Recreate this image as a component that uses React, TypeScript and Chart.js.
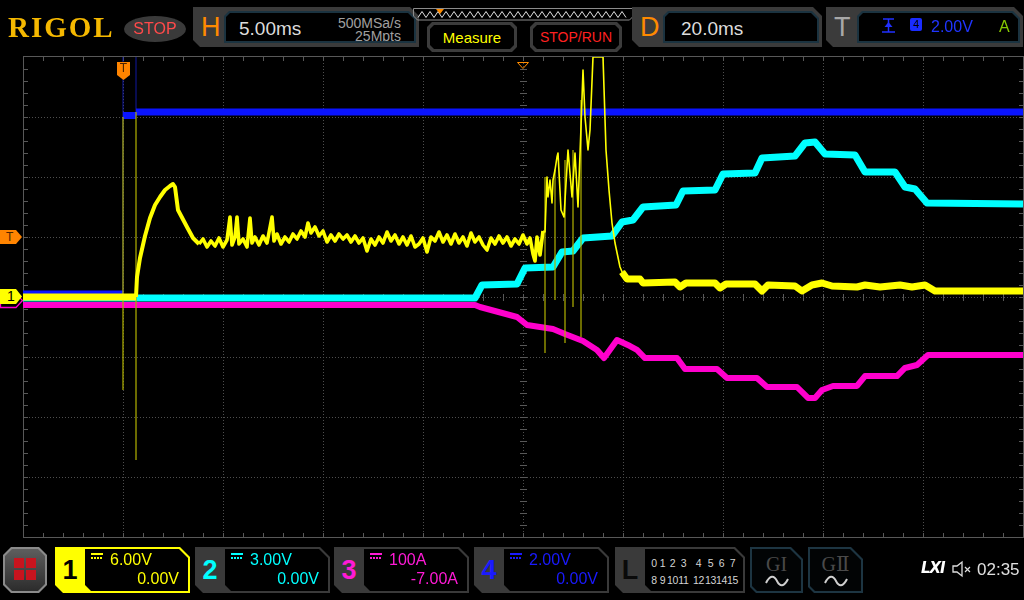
import React, { useEffect, useRef } from 'react';
import { Chart, registerables } from 'chart.js';

Chart.register(...registerables);

// ---- Horizontal / vertical settings ----
const TIME_PER_DIV = 5; // ms/div
const DELAY = 20; // ms (screen centre)
const H_DIVS = 10;
const V_DIVS = 8;

// ---- Channel settings (scale per div, offset) ----
const CH1_SCALE = 6; const CH1_OFFSET = 0; // V
const CH2_SCALE = 3; const CH2_OFFSET = 0; // V
const CH3_SCALE = 100; const CH3_OFFSET = -7; // A
const CH4_SCALE = 2; const CH4_OFFSET = 0; // V

type Pt = [number, number | null];

// ---- CH1 (yellow), time ms / volts ----
const CH1_PRE: Pt[] = [[-5, 0], [0.65, 0]];
const CH1_RISE: Pt[] = [
  [0.65, 0], [0.7, 2.0], [0.85, 3.9], [1.1, 6.1], [1.35, 7.9], [1.6, 9.2], [1.85, 10.0], [2.1, 10.7],
  [2.35, 11.1], [2.5, 11.3], [2.6, 11.0], [2.75, 8.7], [3.2, 7.0], [3.5, 5.9], [3.8, 5.3],
];
const CH1_NOISE: Pt[] = [
  [3.8, 5.3], [4.0, 5.8], [4.2, 5.0], [4.4, 5.6], [4.6, 5.1], [4.8, 5.9], [5.0, 5.0], [5.2, 5.7], [5.35, 8.0],
  [5.45, 5.2], [5.6, 6.0], [5.7, 8.0], [5.8, 5.3], [6.0, 5.8], [6.2, 5.0], [6.35, 7.9], [6.45, 5.4], [6.6, 6.0],
  [6.8, 5.2], [7.0, 6.1], [7.2, 5.4], [7.45, 8.0], [7.55, 5.6], [7.7, 6.3], [7.9, 5.3], [8.1, 6.0], [8.3, 5.5],
  [8.5, 6.3], [8.7, 5.8], [8.9, 6.6], [9.1, 6.0], [9.25, 7.4], [9.4, 6.4], [9.6, 7.0], [9.8, 6.1], [10.0, 6.6],
  [10.2, 5.5], [10.4, 6.2], [10.6, 5.6], [10.8, 6.3], [11.0, 5.8], [11.2, 6.2], [11.4, 5.5], [11.6, 6.1],
  [11.8, 5.4], [12.0, 5.9], [12.2, 4.6], [12.4, 5.8], [12.6, 5.2], [12.8, 6.0], [13.0, 5.4], [13.2, 6.5],
  [13.4, 5.6], [13.6, 6.2], [13.8, 5.3], [14.0, 6.0], [14.2, 5.2], [14.4, 6.1], [14.6, 5.0], [14.8, 5.3],
  [15.0, 5.9], [15.2, 4.5], [15.4, 6.0], [15.6, 5.6], [15.8, 6.5], [16.0, 5.5], [16.2, 6.2], [16.4, 5.3],
  [16.6, 6.3], [16.8, 5.4], [17.0, 6.0], [17.2, 5.1], [17.4, 6.4], [17.6, 5.5], [17.8, 6.0], [18.0, 5.2],
  [18.2, 4.7], [18.4, 5.9], [18.6, 5.3], [18.8, 6.1], [19.0, 5.4], [19.2, 6.0], [19.4, 5.1], [19.6, 5.8],
  [19.8, 5.3], [20.0, 6.2], [20.2, 5.3], [20.35, 5.9], [20.5, 4.3], [20.6, 3.6], [20.7, 6.0], [20.85, 4.2],
  [21.0, 6.6],
];
const CH1_BURST: Pt[] = [
  [21.0, 6.6], [21.1, 6.5], [21.2, 12.0], [21.25, 10.0], [21.35, 11.7], [21.45, 9.4], [21.5, 11.7], [21.6, 12.7],
  [21.7, 14.0], [21.75, 14.4], [21.9, 8.7], [22.05, 8.0], [22.25, 14.7], [22.45, 10.0], [22.6, 14.4], [22.75, 9.0],
  [22.9, 17.0], [23.0, 22.7], [23.1, 18.0], [23.25, 14.7], [23.35, 16.7], [23.5, 24], [24.0, 24], [24.15, 14.7],
  [24.3, 10.7], [24.45, 7.4], [24.6, 5.4], [24.85, 3.0], [25.0, 2.3],
];
const CH1_TAIL: Pt[] = [
  [24.95, 2.5], [25.2, 1.8], [25.85, 1.8], [26.0, 1.4], [27.6, 1.5], [27.85, 1.0], [28.15, 1.4], [29.6, 1.4],
  [29.85, 0.9], [30.15, 1.3], [31.6, 1.3], [31.95, 0.6], [32.25, 1.2], [33.6, 1.1], [33.95, 0.6], [34.45, 1.2],
  [34.95, 1.4], [35.45, 1.1], [36.7, 1.0], [37.1, 1.2], [37.85, 1.0], [38.85, 1.2], [39.45, 1.0], [40.1, 1.2],
  [40.6, 0.6], [45, 0.6],
];
const CH1_GLITCH: Pt[] = [
  [0, 18], [0, -9.3], [0, null], [0.65, 18.5], [0.65, -16.3], [0.65, null],
  [21.1, 12.0], [21.1, -5.6], [21.1, null], [21.6, 12.7], [21.6, -0.3], [21.6, null],
  [22.1, 13.7], [22.1, -4.6], [22.1, null], [22.5, 14.7], [22.5, -1.0], [22.5, null],
  [22.9, 19.7], [22.9, -4.0],
];

// ---- CH2 (cyan), volts ----
const CH2_POINTS: Pt[] = [
  [-5, -0.05], [17.6, -0.05], [17.95, 0.6], [19.7, 0.65], [20.1, 1.45], [21.5, 1.5], [21.95, 2.25], [22.5, 2.3],
  [23.0, 2.95], [24.45, 3.05], [24.95, 3.75], [25.5, 3.85], [26.0, 4.5], [27.65, 4.6], [28.0, 5.3], [29.6, 5.35],
  [30.0, 6.15], [31.6, 6.2], [31.95, 6.95], [33.6, 7.05], [34.1, 7.7], [34.6, 7.75], [35.1, 7.15], [36.6, 7.1],
  [37.1, 6.25], [38.6, 6.25], [39.1, 5.5], [39.6, 5.4], [40.2, 4.7], [45, 4.65],
];

// ---- CH3 (magenta), amps ----
const CH3_POINTS: Pt[] = [
  [-5, -6.3], [17.6, -6.3], [17.85, -9.7], [19.7, -26.3], [20.2, -39.7], [21.5, -46.3], [22.1, -54.7],
  [23.0, -66.3], [23.7, -81.3], [24.05, -94.7], [24.7, -64.7], [25.35, -74.7], [25.7, -81.3], [26.1, -94.7],
  [27.7, -94.7], [28.1, -113], [29.7, -113], [30.2, -128], [31.7, -128], [32.2, -143], [33.7, -143],
  [34.25, -161.3], [34.6, -161.3], [34.95, -148], [35.5, -141.3], [36.7, -141.3], [37.1, -124.7],
  [38.7, -124.7], [39.1, -111.3], [39.7, -106.3], [40.25, -89.7], [45, -89.7],
];

// ---- CH4 (blue), volts ----
const CH4_POINTS: Pt[] = [
  [-5, 0.1], [0, 0.1], [0, null], [0, 6.05], [0.65, 6.05], [0.65, null], [0.65, 6.17], [45, 6.17],
];
const CH4_SPIKES: Pt[] = [[0, 0.1], [0, 8], [0, null], [0.65, 6.05], [0.65, 8]];

const YELLOW = '#ffff00';
const CYAN = '#00ffff';
const MAGENTA = '#ff00cc';
const BLUE = '#0a14ff';

function toDiv(points: Pt[], scale: number, offset: number) {
  return points.map(([t, v]) => ({ x: t, y: v === null ? null : (v + offset) / scale }));
}

function ds(label: string, data: any[], color: string, width: number, order: number) {
  return {
    label, data, borderColor: color, backgroundColor: color, borderWidth: width, pointRadius: 0,
    fill: false, spanGaps: false, order, tension: 0, borderJoinStyle: 'round', borderCapStyle: 'butt',
  };
}

const gridPlugin = {
  id: 'scopeGrid',
  beforeDatasetsDraw(chart: any) {
    const { ctx, chartArea: a } = chart;
    const L = Math.round(a.left), T = Math.round(a.top), R = Math.round(a.right), B = Math.round(a.bottom);
    const W = R - L, H = B - T;
    const dx = W / H_DIVS, dy = H / V_DIVS;
    ctx.save();
    ctx.fillStyle = 'rgb(78,78,78)';
    for (let i = 1; i < H_DIVS; i++) {
      const x = Math.round(L + i * dx);
      for (let y = T; y <= B; y += 3) ctx.fillRect(x, y, 1, 1);
    }
    for (let j = 1; j < V_DIVS; j++) {
      const y = Math.round(T + j * dy);
      for (let x = L; x <= R; x += 3) ctx.fillRect(x, y, 1, 1);
    }
    ctx.fillStyle = 'rgb(88,88,88)';
    ctx.fillRect(L, T - 1, W, 1);
    ctx.fillRect(L, B, W + 1, 1);
    ctx.fillRect(L, T - 1, 1, H + 1);
    ctx.fillRect(R, T - 1, 1, H + 2);
    const cx = Math.round(L + (H_DIVS / 2) * dx), cy = Math.round(T + (V_DIVS / 2) * dy);
    for (let k = 1; k < H_DIVS * 5; k++) {
      const x = Math.round(L + (k * dx) / 5);
      ctx.fillRect(x, B - 4, 1, 4);
      ctx.fillRect(x, T, 1, 4);
      ctx.fillRect(x, cy - 3, 1, 7);
    }
    for (let k = 1; k < V_DIVS * 5; k++) {
      const y = Math.round(T + (k * dy) / 5);
      ctx.fillRect(L + 1, y, 4, 1);
      ctx.fillRect(R - 4, y, 4, 1);
      ctx.fillRect(cx - 3, y, 7, 1);
    }
    ctx.restore();
  },
};

function poly(c: number[]) {
  const [tl, tr, br, bl] = c;
  return `polygon(${tl}px 0, calc(100% - ${tr}px) 0, 100% ${tr}px, 100% calc(100% - ${br}px), calc(100% - ${br}px) 100%, ${bl}px 100%, 0 calc(100% - ${bl}px), 0 ${tl}px)`;
}

function Shape({ x, y, w, h, bg, cut = [0, 0, 0, 0], style = {}, children }: any) {
  return (
    <div style={{ position: 'absolute', left: x, top: y, width: w, height: h, background: bg, clipPath: poly(cut), ...style }}>
      {children}
    </div>
  );
}

function Txt({ x, y, size, color, children, weight = 'normal', family, style = {} }: any) {
  return (
    <div style={{ position: 'absolute', left: x, top: y, fontSize: size, lineHeight: 1, color, fontWeight: weight,
      whiteSpace: 'pre', fontFamily: family, ...style }}>{children}</div>
  );
}

function InfoBox({ x, w, letter, letterColor, children }: any) {
  return (
    <Shape x={x} y={7} w={w} h={40} bg="#3b3b3b" cut={[0, 9, 0, 7]}>
      <Txt x={8} y={7} size={27} color={letterColor}>{letter}</Txt>
      <Shape x={31} y={4} w={w - 34} h={32} bg="#1b3340" cut={[5, 7, 0, 0]}>
        <Shape x={2} y={2} w={w - 38} h={28} bg="#000" cut={[4, 6, 0, 0]}>{children}</Shape>
      </Shape>
    </Shape>
  );
}

function Button({ x, w, color, size, label }: any) {
  return (
    <Shape x={x} y={22} w={w} h={30} bg="#3c3c3c" cut={[5, 5, 5, 5]}>
      <Shape x={3} y={3} w={w - 6} h={24} bg="#000" cut={[4, 4, 4, 4]}>
        <div style={{ position: 'absolute', inset: 0, display: 'flex', alignItems: 'center', justifyContent: 'center',
          color, fontSize: size }}>{label}</div>
      </Shape>
    </Shape>
  );
}

function DcIcon({ x, y, color }: any) {
  return (
    <div style={{ position: 'absolute', left: x, top: y, width: 12, height: 6 }}>
      <div style={{ position: 'absolute', left: 0, top: 0, width: 12, height: 2, background: color }} />
      <div style={{ position: 'absolute', left: 0, top: 4, width: 12, height: 2,
        background: `repeating-linear-gradient(90deg, ${color} 0 2px, transparent 2px 3px)` }} />
    </div>
  );
}

function ChannelBox({ x, num, color, active, line1, line2 }: any) {
  const frame = active ? color : '#3a3a3a';
  return (
    <Shape x={x} y={547} w={135} h={46} bg={frame} cut={[0, 10, 0, 8]}>
      <div style={{ position: 'absolute', left: 0, top: 0, width: 30, height: 46, display: 'flex', alignItems: 'center',
        justifyContent: 'center', color: active ? '#000' : color, fontSize: 27, fontWeight: 'bold' }}>{num}</div>
      <Shape x={30} y={2} w={103} h={42} bg="#000" cut={[0, 9, 0, 6]}>
        <DcIcon x={6} y={4} color={color} />
        <Txt x={25} y={3} size={16} color={color}>{line1}</Txt>
        <Txt x={0} y={22} size={16} color={color} style={{ left: 'auto', right: 9 }}>{line2}</Txt>
      </Shape>
    </Shape>
  );
}

function GBox({ x, w, label }: any) {
  return (
    <Shape x={x} y={547} w={w} h={46} bg="#1d3542" cut={[0, 12, 0, 6]}>
      <Shape x={2} y={2} w={w - 4} h={42} bg="#020405" cut={[0, 11, 0, 5]}>
        <div style={{ position: 'absolute', left: 0, width: w - 4, top: 5, textAlign: 'center', fontSize: 20, lineHeight: 1,
          color: '#4a4a4a', fontFamily: '"Liberation Serif", "DejaVu Serif", serif' }}>{label}</div>
        <svg style={{ position: 'absolute', left: (w - 4) / 2 - 13, top: 26 }} width={26} height={12}>
          <path d="M2,8 C6,0 10,0 13,6 S20,12 24,4" stroke="#cfcfcf" strokeWidth={2} fill="none" />
        </svg>
      </Shape>
    </Shape>
  );
}

const LA_ROW1 = ['0', '1', '2', '3', '4', '5', '6', '7'];
const LA_ROW2 = ['8', '9', '10', '11', '12', '13', '14', '15'];
const LA_WIDTHS = [8, 9, 11, 11, 13, 11, 11, 11];

function App() {
  const ref = useRef<HTMLCanvasElement | null>(null);

  useEffect(() => {
    const xMin = DELAY - (TIME_PER_DIV * H_DIVS) / 2;
    const xMax = DELAY + (TIME_PER_DIV * H_DIVS) / 2;
    const chart = new Chart(ref.current as HTMLCanvasElement, {
      type: 'line',
      data: {
        datasets: [
          ds('CH1', toDiv(CH1_PRE, CH1_SCALE, CH1_OFFSET), YELLOW, 7, 0),
          ds('CH1', toDiv(CH1_RISE, CH1_SCALE, CH1_OFFSET), YELLOW, 4, 0),
          ds('CH1', toDiv(CH1_NOISE, CH1_SCALE, CH1_OFFSET), YELLOW, 3.6, 0),
          ds('CH1', toDiv(CH1_BURST, CH1_SCALE, CH1_OFFSET), YELLOW, 1.6, 0),
          ds('CH1', toDiv(CH1_TAIL, CH1_SCALE, CH1_OFFSET), YELLOW, 7, 0),
          ds('CH1 glitch', toDiv(CH1_GLITCH, CH1_SCALE, CH1_OFFSET), 'rgba(175,175,0,0.55)', 1, 1),
          ds('CH2', toDiv(CH2_POINTS, CH2_SCALE, CH2_OFFSET), CYAN, 7, 2),
          ds('CH3', toDiv(CH3_POINTS, CH3_SCALE, CH3_OFFSET), MAGENTA, 6, 3),
          ds('CH4', toDiv(CH4_POINTS, CH4_SCALE, CH4_OFFSET), BLUE, 7, 4),
          ds('CH4 spikes', toDiv(CH4_SPIKES, CH4_SCALE, CH4_OFFSET), 'rgba(20,30,200,0.8)', 1, 5),
        ] as any,
      },
      options: {
        animation: false,
        responsive: false,
        maintainAspectRatio: false,
        devicePixelRatio: 1,
        events: [],
        layout: { padding: { left: 23, right: 1, top: 57, bottom: 63 } },
        scales: {
          x: { type: 'linear', min: xMin, max: xMax, display: false },
          y: { type: 'linear', min: -V_DIVS / 2, max: V_DIVS / 2, display: false },
        },
        plugins: { legend: { display: false }, tooltip: { enabled: false } },
        elements: { point: { radius: 0 }, line: { tension: 0 } },
      } as any,
      plugins: [gridPlugin],
    });
    return () => chart.destroy();
  }, []);

  const zig: string[] = [];
  for (let i = 0; i <= 52; i++) zig.push(`${8 + i * 4},${i % 2 === 0 ? 13.5 : 7.5}`);

  return (
    <div style={{ position: 'fixed', left: 0, top: 0, width: 1024, height: 600, background: '#000', overflow: 'hidden',
      fontFamily: '"Liberation Sans", Arial, sans-serif' }}>
      <canvas ref={ref} width={1024} height={600} style={{ position: 'absolute', left: 0, top: 0, width: 1024, height: 600 }} />

      {/* ---- top bar ---- */}
      <Txt x={8} y={13} size={29} color="#f5b800" weight="bold" family='"Liberation Serif", "DejaVu Serif", serif'
        style={{ letterSpacing: 2 }}>RIGOL</Txt>
      <div style={{ position: 'absolute', left: 124, top: 16, width: 62, height: 26, borderRadius: '50%', background: '#3a3a3a',
        color: '#ff4a4a', fontSize: 16, lineHeight: '26px', textAlign: 'center' }}>STOP</div>

      <InfoBox x={193} w={226} letter="H" letterColor="#ff8a00">
        <Txt x={13} y={6} size={19} color="#dcdcdc">5.00ms</Txt>
        <div style={{ position: 'absolute', right: 13, top: 3, fontSize: 14, lineHeight: 1, color: '#a0a0a0', textAlign: 'right' }}>500MSa/s</div>
        <div style={{ position: 'absolute', right: 13, top: 16, fontSize: 14, lineHeight: 1, color: '#a0a0a0', textAlign: 'right' }}>25Mpts</div>
      </InfoBox>

      <svg style={{ position: 'absolute', left: 410, top: 4 }} width={228} height={20}>
        <path d="M3.5,4.5 H223.5 V12 L219.5,16 H7.5 L3.5,12 Z" stroke="#8c8c8c" fill="none" />
        <polyline points={zig.join(' ')} stroke="#e0e0e0" strokeWidth={1} fill="none" />
        <polygon points="26,5 34,5 30,10" fill="#ff8c00" />
      </svg>

      <Button x={427} w={90} color="#ffff00" size={15} label="Measure" />
      <Button x={530} w={92} color="#ff2020" size={14} label="STOP/RUN" />

      <InfoBox x={632} w={190} letter="D" letterColor="#ff8a00">
        <Txt x={16} y={6} size={19} color="#dcdcdc">20.0ms</Txt>
      </InfoBox>

      <InfoBox x={826} w={197} letter="T" letterColor="#a8a8a8">
        <svg style={{ position: 'absolute', left: 20, top: 3 }} width={20} height={20}>
          <path d="M3,16 H16 M9.5,16 V3 M4,3 H15" stroke="#2030ff" strokeWidth={1.5} fill="none" />
          <polygon points="5.5,11 13.5,11 9.5,6" fill="#2030ff" />
        </svg>
        <div style={{ position: 'absolute', left: 51, top: 5, width: 12, height: 13, background: '#1a2cff', borderRadius: 2,
          color: '#000', fontSize: 11, lineHeight: '13px', textAlign: 'center' }}>4</div>
        <Txt x={72} y={6} size={16} color="#2035ff">2.00V</Txt>
        <Txt x={140} y={6} size={16} color="#86c800">A</Txt>
      </InfoBox>

      {/* ---- on-grid markers ---- */}
      <div style={{ position: 'absolute', left: 516, top: 56 }}>
        <svg width={14} height={9}><polygon points="1.5,1.5 12.5,1.5 7,7.5" stroke="#ff8c00" fill="none" /></svg>
      </div>
      <div style={{ position: 'absolute', left: 117, top: 62, width: 13, height: 18, background: '#ff8400',
        clipPath: 'polygon(0 0, 100% 0, 100% 72%, 50% 100%, 0 72%)', color: '#4a2200', fontSize: 12, lineHeight: '13px',
        textAlign: 'center' }}>T</div>
      <div style={{ position: 'absolute', left: 0, top: 230, width: 22, height: 14, background: '#ff8400',
        clipPath: 'polygon(0 0, 16px 0, 100% 50%, 16px 100%, 0 100%)', color: '#4a2200', fontSize: 12, lineHeight: '14px',
        paddingLeft: 6, boxSizing: 'border-box' }}>T</div>
      <svg style={{ position: 'absolute', left: 0, top: 293 }} width={24} height={16}>
        <polygon points="0.5,1 16,1 22.5,7.5 16,14.5 0.5,14.5" stroke={MAGENTA} strokeWidth={1.3} fill="none" />
      </svg>
      <div style={{ position: 'absolute', left: 0, top: 289, width: 22, height: 15, background: '#ffff00',
        clipPath: 'polygon(0 0, 16px 0, 100% 50%, 16px 100%, 0 100%)', color: '#000', fontSize: 14, lineHeight: '15px',
        paddingLeft: 7, boxSizing: 'border-box' }}>1</div>

      {/* ---- bottom bar ---- */}
      <Shape x={3} y={547} w={44} h={46} bg="#8a8a8a" cut={[8, 8, 8, 8]}>
        <Shape x={2} y={2} w={40} h={42} bg="linear-gradient(#5e5e5e, #2c2c2c)" cut={[7, 7, 7, 7]}>
          {[[9, 9], [21, 9], [9, 21], [21, 21]].map(([sx, sy], i) => (
            <div key={i} style={{ position: 'absolute', left: sx, top: sy, width: 10, height: 10, background: '#c8141e' }} />
          ))}
        </Shape>
      </Shape>

      <ChannelBox x={55} num="1" color="#ffff00" active line1="6.00V" line2="0.00V" />
      <ChannelBox x={195} num="2" color="#00ffff" line1="3.00V" line2="0.00V" />
      <ChannelBox x={334} num="3" color="#ff1ad6" line1="100A" line2="-7.00A" />
      <ChannelBox x={474} num="4" color="#1a1aff" line1="2.00V" line2="0.00V" />

      <Shape x={615} y={547} w={130} h={46} bg="#3a3a3a" cut={[0, 10, 0, 8]}>
        <div style={{ position: 'absolute', left: 0, top: 0, width: 30, height: 46, display: 'flex', alignItems: 'center',
          justifyContent: 'center', color: '#0a0a0a', fontSize: 27, fontWeight: 'bold' }}>L</div>
        <Shape x={30} y={2} w={98} h={42} bg="#000" cut={[0, 9, 0, 6]}>
          {[LA_ROW1, LA_ROW2].map((row, r) => (
            <div key={r} style={{ position: 'absolute', left: 5, top: r === 0 ? 9 : 26, display: 'flex', fontSize: 10.5,
              lineHeight: 1, color: '#d4d4d4', letterSpacing: -0.3 }}>
              {row.map((d, i) => (
                <div key={i} style={{ width: LA_WIDTHS[i], textAlign: 'center', marginLeft: i === 4 ? 3 : 0 }}>{d}</div>
              ))}
            </div>
          ))}
        </Shape>
      </Shape>

      <GBox x={750} w={53} label="GI" />
      <GBox x={808} w={55} label="GⅡ" />

      <Txt x={921} y={561} size={15} color="#ffffff" weight="bold" family='"DejaVu Sans", sans-serif'
        style={{ fontStyle: 'italic', letterSpacing: -1 }}>LXI</Txt>
      <svg style={{ position: 'absolute', left: 951, top: 560 }} width={22} height={18}>
        <path d="M2,6 H6 L11,2 V16 L6,12 H2 Z" stroke="#dddddd" strokeWidth={1.3} fill="none" />
        <path d="M14,7 L19,12 M19,7 L14,12" stroke="#dddddd" strokeWidth={1.2} />
      </svg>
      <Txt x={977} y={561} size={17} color="#e0e0e0">02:35</Txt>
    </div>
  );
}

export default App;
